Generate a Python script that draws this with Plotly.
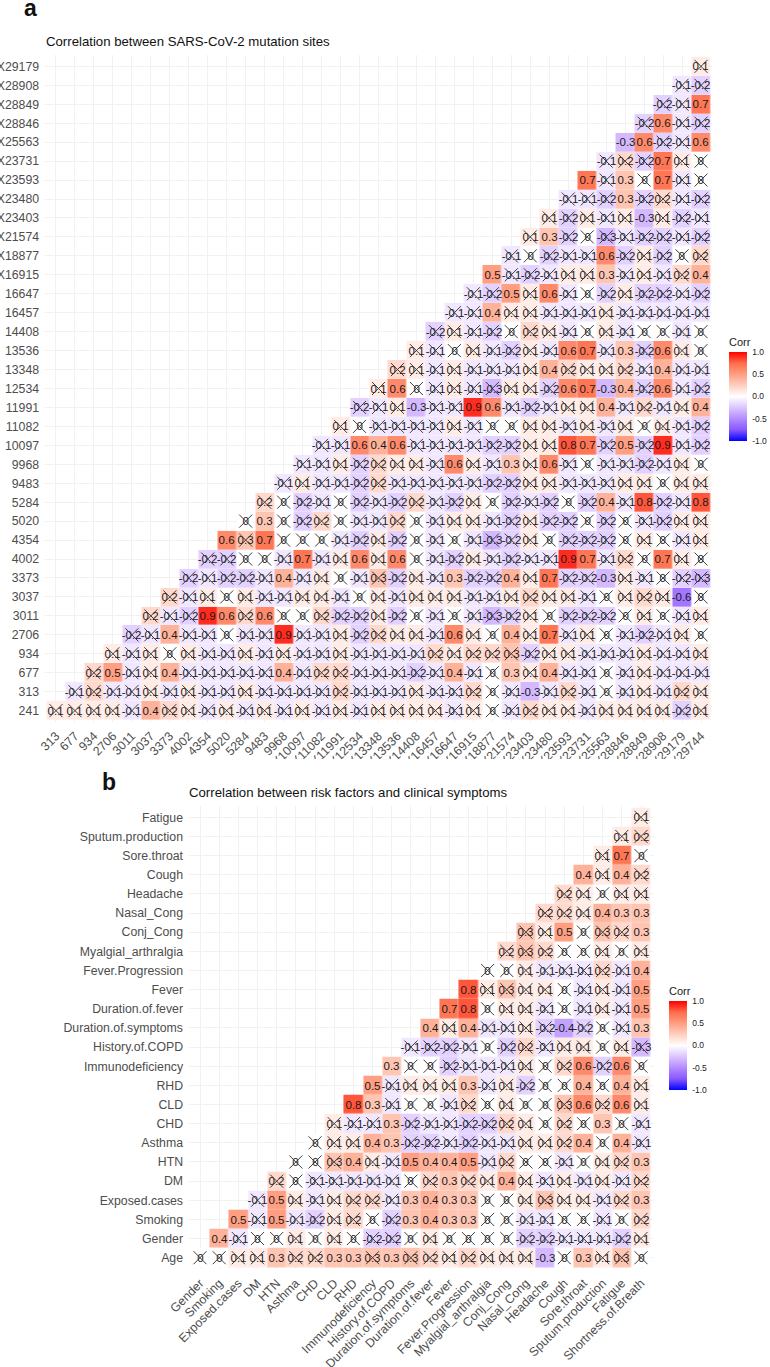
import plotly.graph_objects as go

# ---------- panel a: mutation sites ----------
mut_y = ["241","313","677","934","2706","3011","3037","3373","4002","4354","5020","5284","9483","9968",
         "10097","11082","11991","12534","13348","13536","14408","16457","16647","X16915","X18877",
         "X21574","X23403","X23480","X23593","X23731","X25563","X28846","X28849","X28908","X29179"]
mut_x = ["313","677","934","2706","3011","3037","3373","4002","4354","5020","5284","9483","9968",
         "X10097","X11082","X11991","X12534","X13348","X13536","X14408","X16457","X16647","X16915",
         "X18877","X21574","X23403","X23480","X23593","X23731","X25563","X28846","X28849","X28908",
         "X29179","X29744"]
# rows listed top to bottom; each row ends in the last column
mut_rows = [
 [0.1],
 [-0.1,-0.2],
 [-0.2,-0.1,0.7],
 [-0.2,0.6,-0.1,-0.2],
 [-0.3,0.6,-0.2,-0.1,0.6],
 [-0.1,0.2,-0.2,0.7,0.1,0],
 [0.7,-0.1,0.3,0,0.7,-0.1,0],
 [-0.1,-0.1,-0.2,0.3,-0.2,0.2,-0.1,-0.2],
 [0.1,-0.2,0.1,-0.1,0.1,-0.3,0.1,-0.2,-0.1],
 [0.1,0.3,-0.2,0,-0.3,-0.1,-0.2,-0.2,-0.1,-0.2],
 [-0.1,0,-0.2,-0.1,-0.1,0.6,-0.2,0.1,-0.2,0,0.2],
 [0.5,-0.1,-0.2,-0.1,0.1,0.1,0.3,-0.1,0.1,-0.1,0.2,0.4],
 [-0.1,-0.2,0.5,0.1,0.6,-0.1,0,-0.2,0.1,-0.2,-0.2,-0.1,-0.2],
 [-0.1,-0.1,0.4,0.1,0.1,-0.1,-0.1,-0.1,0.1,-0.1,-0.1,-0.1,-0.1,-0.1],
 [-0.2,0.1,-0.1,-0.2,0,0.2,0.1,-0.1,0,0.1,-0.1,0,0,-0.1,0],
 [0.1,-0.1,0,0.1,-0.1,-0.2,0.1,-0.1,0.6,0.7,-0.1,0.3,-0.2,0.6,0.1,0],
 [0.2,0.1,-0.1,0.1,-0.1,-0.1,-0.1,0.1,0.4,0.2,0.1,0.1,0.2,-0.1,0.4,-0.1,-0.1],
 [0.1,0.6,0,-0.1,0.1,-0.1,-0.3,0.1,0.1,-0.2,0.6,0.7,-0.3,0.4,-0.2,0.6,-0.1,-0.2],
 [-0.2,-0.1,0.1,-0.3,-0.1,-0.1,0.9,0.6,-0.1,-0.2,-0.1,0.1,0.1,0.4,-0.1,0.2,-0.1,0.1,0.4],
 [0.1,0,-0.1,-0.1,-0.1,-0.1,0.1,-0.1,0,0,0.1,0.1,-0.1,0.1,-0.1,0.1,0,0.1,-0.1,-0.2],
 [-0.1,-0.1,0.6,0.4,0.6,-0.1,-0.1,-0.1,-0.1,-0.2,-0.2,0.1,0.1,0.8,0.7,-0.2,0.5,-0.2,0.9,-0.1,-0.2],
 [-0.1,-0.1,0.1,-0.2,0.2,0.1,0.1,-0.1,0.6,0.1,-0.1,0.3,0.1,0.6,-0.1,0,-0.1,-0.1,-0.2,-0.1,0.1,0],
 [-0.1,0.1,-0.1,-0.1,-0.2,0.2,-0.1,-0.1,-0.1,-0.1,-0.1,-0.2,-0.2,0.1,0.1,-0.1,-0.1,-0.1,0.1,0.1,0,0.1,0.1],
 [0.2,0,-0.2,-0.1,0,-0.2,-0.1,-0.2,0.2,-0.1,-0.2,0.1,0,-0.2,-0.1,-0.2,0,-0.2,0.4,-0.1,0.8,-0.2,-0.1,0.8],
 [0,0.3,0,-0.2,0.2,0,-0.1,-0.1,0.2,0,-0.1,0.1,0.1,-0.1,-0.2,0.1,-0.2,-0.2,0,-0.2,0,-0.1,-0.2,0.1,0.1],
 [0.6,0.3,0.7,0,0,0,-0.1,-0.2,0.1,-0.2,0,-0.1,0,-0.1,-0.3,-0.2,0.1,0,-0.2,-0.2,-0.2,0,0.1,0,-0.1,0.1],
 [-0.2,-0.2,0,0,-0.1,0.7,-0.1,0.1,0.6,0.1,0.6,0,-0.1,-0.2,0.1,-0.1,-0.2,-0.1,-0.1,0.9,0.7,-0.1,0.2,0,0.7,0.1,0],
 [-0.2,-0.1,-0.2,-0.2,-0.1,0.4,-0.1,0.1,0,-0.1,0.3,-0.2,0.1,-0.1,0.3,-0.2,-0.2,0.4,0.1,0.7,-0.2,-0.2,-0.3,0.1,-0.1,0,-0.2,-0.3],
 [0.2,-0.1,0.1,0,0.1,-0.1,-0.1,0.1,0.1,-0.1,0,0.1,-0.1,0.1,0.1,0.1,-0.1,-0.1,0.1,0.2,0.1,0.1,-0.1,0,0.1,0.2,0.1,-0.6,0],
 [0.2,-0.1,-0.2,0.9,0.6,0.2,0.6,0,0,0.2,-0.2,-0.2,0.1,-0.2,0,-0.1,0,-0.1,-0.3,-0.2,0.1,0,-0.2,-0.2,-0.2,0,0.1,0,-0.1,0.1],
 [-0.2,-0.1,0.4,-0.1,-0.1,0,-0.1,-0.1,0.9,-0.1,-0.1,0.1,-0.2,0.2,0.1,0.1,-0.1,0.6,0.1,0,0.4,0.1,0.7,-0.1,0.1,0,-0.1,-0.2,-0.1,0.1,0],
 [0.1,-0.1,0.1,0,0.1,-0.1,-0.1,0.1,-0.1,0.1,-0.1,-0.1,0.1,-0.1,-0.1,-0.1,-0.1,0.2,0.1,0.2,0.2,0.3,-0.2,0.1,0.1,-0.1,-0.1,-0.1,0.1,-0.1,-0.1,0.1],
 [0.2,0.5,-0.1,0.1,0.4,-0.1,-0.1,-0.1,-0.1,-0.1,0.4,-0.1,0.2,0.2,-0.1,-0.1,-0.1,-0.2,-0.1,0.4,-0.1,0,0.3,0.1,0.4,-0.1,-0.1,0,-0.1,0.1,-0.1,-0.1,-0.1],
 [-0.1,0.2,-0.1,-0.1,0.1,-0.1,0.1,-0.1,-0.1,0.1,-0.1,-0.1,-0.1,-0.1,0.2,-0.1,-0.1,-0.1,0.1,-0.1,-0.1,0.2,0,-0.1,-0.3,-0.1,0.2,-0.1,0,-0.1,0.1,-0.1,0.2,0.1],
 [0.1,0.1,0.1,0.1,-0.1,0.4,0.2,0.1,-0.1,0.1,-0.1,0.1,-0.1,0.1,-0.1,0.1,-0.1,0.1,0.1,0.1,0.1,-0.1,0.1,0,-0.1,0.2,0.1,0.1,-0.1,0.1,0.1,0.1,0.1,-0.2,0.1],
]
# cells of size 0.3 that are still crossed out: (row label, column label)
mut_crossed_03 = [("X21574","X25563"),("12534","X18877"),("4354","5284"),("4354","X18877"),
                  ("3373","X13348"),("3373","X29744"),("3011","X18877"),("934","X21574")]

# ---------- panel b: risk factors and symptoms ----------
risk_y = ["Age","Gender","Smoking","Exposed.cases","DM","HTN","Asthma","CHD","CLD","RHD","Immunodeficiency",
          "History.of.COPD","Duration.of.symptoms","Duration.of.fever","Fever","Fever.Progression",
          "Myalgial_arthralgia","Conj_Cong","Nasal_Cong","Headache","Cough","Sore.throat",
          "Sputum.production","Fatigue"]
risk_x = ["Gender","Smoking","Exposed.cases","DM","HTN","Asthma","CHD","CLD","RHD","Immunodeficiency",
          "History.of.COPD","Duration.of.symptoms","Duration.of.fever","Fever","Fever.Progression",
          "Myalgial_arthralgia","Conj_Cong","Nasal_Cong","Headache","Cough","Sore.throat",
          "Sputum.production","Fatigue","Shortness.of.Breath"]
risk_rows = [
 [0.1],
 [0.1,0.2],
 [0.1,0.7,0],
 [0.4,0.1,0.4,0.2],
 [0.2,0.1,0,0.1,0.1],
 [0.2,0.2,0.1,0.4,0.3,0.3],
 [0.3,0.1,0.5,0,0.3,0.2,0.3],
 [0.2,0.3,0.2,0,0,0.1,0,0.1],
 [0,0,0.1,-0.1,-0.1,-0.1,0.2,-0.1,0.4],
 [0.8,0.1,0.3,0.1,0.1,0,-0.1,0.1,-0.1,0.5],
 [0.7,0.8,0,0.1,0.1,-0.1,0,-0.1,0.1,-0.1,0.5],
 [0.4,0.1,0.4,-0.1,-0.1,0.1,-0.2,-0.4,-0.2,0,-0.1,0.3],
 [-0.1,-0.2,-0.2,-0.1,0,-0.2,0.2,-0.1,0.1,0.1,0,0.1,-0.3],
 [0.3,0,0,-0.2,-0.1,-0.1,-0.1,0.1,0,0.2,0.6,-0.2,0.6,0],
 [0.5,-0.1,0.1,0.1,0.1,0.3,-0.1,0.1,-0.2,0,0,0.4,0,0.4,0.1],
 [0.8,0.3,-0.1,0,0,-0.1,0.2,0,0.1,0,0,0.3,0.6,0.2,0.6,0.1],
 [0.1,-0.1,-0.1,0.3,-0.2,-0.1,-0.1,-0.2,-0.2,0.2,0.1,0,0.2,0,0.3,0,-0.1],
 [0,0.1,0.1,0.4,0.3,-0.2,-0.2,-0.1,-0.2,-0.1,-0.1,0.1,0.1,0.2,0.4,0,0.4,-0.1],
 [0,0,0.3,0.4,0.1,-0.1,0.5,0.4,0.4,0.5,-0.1,0.2,0,0,-0.1,0,0.1,0.2,0.3],
 [0.2,0,-0.1,-0.1,-0.1,-0.1,-0.1,0,0.2,0.3,0.2,0.1,0.4,0.1,-0.1,0.1,-0.1,0.1,-0.1,0.2],
 [-0.1,0.5,0.1,-0.1,0.1,0.2,0.2,-0.1,0.3,0.4,0.3,0.3,0,0,0.1,0.3,0.1,0.1,-0.1,0.2,0.3],
 [0.5,-0.1,0.5,-0.1,-0.2,0.1,0.2,0,-0.2,0.3,0.4,0.3,0.3,0,0,-0.1,-0.1,0,0,-0.1,0,0.2],
 [0.4,-0.1,0,0,0.1,0,0.1,0,-0.2,-0.2,0,0.1,0,0,0,0,-0.2,-0.2,-0.1,-0.1,-0.1,-0.2,0.1],
 [0,0,0.1,0.1,0.3,0.2,0.2,0.3,0.3,0.3,0.3,0.3,0.2,0.1,0.2,0.1,0.1,0.1,-0.3,0,0.3,0.1,0.3,0],
]
risk_crossed_03 = [("Conj_Cong","Nasal_Cong"),("Conj_Cong","Sputum.production"),
                   ("Myalgial_arthralgia","Nasal_Cong"),("Fever","Conj_Cong"),
                   ("History.of.COPD","Shortness.of.Breath"),("CLD","Cough"),("HTN","CLD"),
                   ("Exposed.cases","Headache"),("Age","Immunodeficiency"),
                   ("Age","Duration.of.symptoms"),("Age","Fatigue")]

# ---------- styling ----------
W, H = 770, 1367
FONT = "Liberation Sans"
scale = [[0, "#0000FF"], [0.125, "#8858FF"], [0.25, "#B38BFF"], [0.375, "#DCC5FF"], [0.5, "#FFFFFF"],
         [0.625, "#FFCFC0"], [0.75, "#FF9E81"], [0.875, "#FF6C4A"], [1, "#FF0000"]]

fig = go.Figure()


def panel(idx, xs, ys, rows, crossed_03, box, cbar):
    n = len(ys)
    z, text, cx, cy = [], [], [], []
    crossed = set(crossed_03)
    ordered = rows[::-1]
    for r, row in enumerate(ordered):
        pad = len(xs) - len(row)
        assert pad == r, (r, len(row))
        z.append([None] * pad + row)
        text.append([""] * pad + [("0" if v == 0 else str(v)) for v in row])
        for c, v in enumerate(row):
            label = xs[pad + c]
            if abs(v) < 0.3 or (ys[r], label) in crossed:
                cx.append(label)
                cy.append(ys[r])
    sfx = "" if idx == 1 else str(idx)
    fig.add_trace(go.Heatmap(x=xs, y=ys, z=z, text=text, texttemplate="%{text}",
                             textfont=dict(family=FONT, size=11.5, color="#1a1a1a"),
                             coloraxis="coloraxis" + sfx, xgap=0.3, ygap=0.3,
                             xaxis="x" + sfx, yaxis="y" + sfx, hoverongaps=False))
    fig.add_trace(go.Scatter(x=cx, y=cy, mode="markers", xaxis="x" + sfx, yaxis="y" + sfx,
                             marker=dict(symbol="x-thin", size=13, line=dict(width=0.95, color="#333333")),
                             showlegend=False, hoverinfo="skip"))
    l, r_, t, b = box
    axis = dict(type="category", showgrid=True, gridcolor="#F1F1F1", gridwidth=1.1, zeroline=False,
                showline=False, ticks="outside", ticklen=2, tickcolor="rgba(255,255,255,0)",
                tickfont=dict(family=FONT, size=12.3, color="#4D4D4D"), automargin=False)
    fig.update_layout({
        "xaxis" + sfx: dict(axis, domain=[l / W, r_ / W], anchor="y" + sfx, categoryorder="array",
                            categoryarray=xs, range=[-0.6, len(xs) - 0.4], tickangle=-45, ticklen=1),
        "yaxis" + sfx: dict(axis, domain=[1 - b / H, 1 - t / H], anchor="x" + sfx, categoryorder="array",
                            categoryarray=ys, range=[-0.6, n - 0.4]),
        "coloraxis" + sfx: dict(cmin=-1, cmax=1, colorscale=scale, colorbar=dict(
            title=dict(text="Corr", side="top", font=dict(family=FONT, size=11, color="#222")),
            x=cbar[0] / W, xanchor="left", y=1 - cbar[1] / H, yanchor="top", len=cbar[2], lenmode="pixels",
            thickness=18, thicknessmode="pixels", outlinewidth=0, xpad=0, ypad=0,
            tickvals=[-1, -0.5, 0, 0.5, 1], ticktext=["-1.0", "-0.5", "0.0", "0.5", "1.0"],
            ticks="outside", ticklen=4, tickcolor="#FFFFFF", tickwidth=0.6,
            tickfont=dict(family=FONT, size=8.5, color="#222"))),
    })


panel(1, mut_x, mut_y, mut_rows, mut_crossed_03, (44.6, 712.4, 55, 722), (729, 335, 106))
panel(2, risk_x, risk_y, risk_rows, risk_crossed_03, (188.5, 652.5, 805.8, 1269.2), (669, 984, 106))


def note(text, x, y, size, bold=False):
    fig.add_annotation(text=("<b>%s</b>" % text) if bold else text, xref="paper", yref="paper", x=x / W,
                       y=1 - y / H, xanchor="left", yanchor="middle", showarrow=False,
                       font=dict(family=FONT, size=size, color="#111"))


note("Correlation between SARS-CoV-2 mutation sites", 43.7, 41.5, 13.2)
note("Correlation between risk factors and clinical symptoms", 187, 792.3, 13.2)
note("a", 22, 8, 23, True)
note("b", 100, 782, 23, True)

# the labels under panel a are cut off in the source figure
fig.add_shape(type="rect", xref="paper", yref="paper", x0=0, x1=1, y0=1 - 772 / H, y1=1 - 759 / H,
              fillcolor="white", line_width=0, layer="above")

fig.update_layout(width=W, height=H, margin=dict(l=0, r=0, t=0, b=0), paper_bgcolor="white",
                  plot_bgcolor="white", showlegend=False, font=dict(family=FONT))
fig.write_html("out.html", config=dict(displayModeBar=False),
               post_script="document.body.style.margin='0';")
